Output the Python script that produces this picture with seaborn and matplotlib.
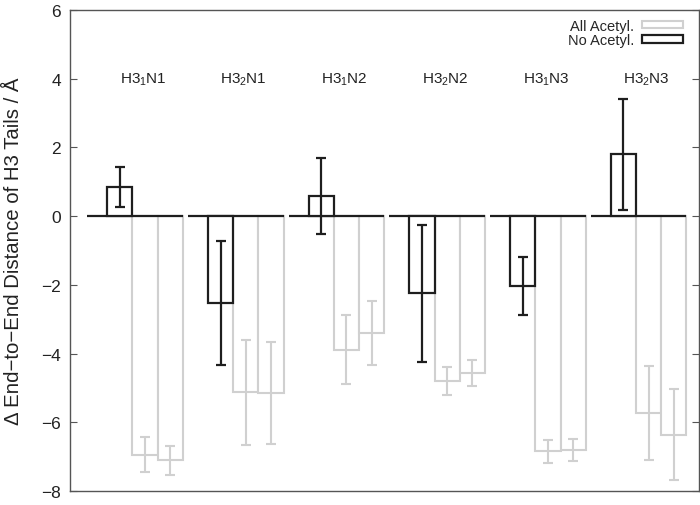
import numpy as np
import pandas as pd
import seaborn as sns
from matplotlib import pyplot as plt
from matplotlib.patches import Patch

# values
groups = ["H3$_1$N1", "H3$_2$N1", "H3$_1$N2", "H3$_2$N2", "H3$_1$N3", "H3$_2$N3"]
no_acetyl = [0.85, -2.53, 0.59, -2.25, -2.03, 1.80]
no_acetyl_err = [0.57, 1.80, 1.10, 2.00, 0.85, 1.61]
all_acetyl_a = [-6.94, -5.13, -3.89, -4.79, -6.85, -5.73]
all_acetyl_a_err = [0.51, 1.52, 1.00, 0.41, 0.33, 1.36]
all_acetyl_b = [-7.11, -5.15, -3.40, -4.57, -6.82, -6.36]
all_acetyl_b_err = [0.43, 1.48, 0.93, 0.37, 0.32, 1.32]

df = pd.DataFrame({
    "group": groups,
    "no": no_acetyl, "no_err": no_acetyl_err,
    "all_a": all_acetyl_a, "all_a_err": all_acetyl_a_err,
    "all_b": all_acetyl_b, "all_b_err": all_acetyl_b_err,
})

sns.set_style("white")
plt.rcParams['font.family'] = ['Liberation Sans', 'DejaVu Sans']
plt.rcParams['mathtext.default'] = 'regular'

BLACK = "#1e1e1e"
GRAY = "#d0d0d0"

fig = plt.figure(figsize=(7, 5.06), dpi=100)
ax = fig.add_axes([0.0993, 0.0277, 0.8993, 0.9506])

pos = np.arange(len(df)) * 4  # gnuplot-like histogram: 3 bars + 1 gap
# all acetyl (gray, empty)
ax.bar(pos + 2, df["all_a"], width=1, color="white", edgecolor=GRAY, linewidth=1.5, zorder=1)
ax.bar(pos + 3, df["all_b"], width=1, color="white", edgecolor=GRAY, linewidth=1.5, zorder=1)
ax.errorbar(pos + 2, df["all_a"], yerr=df["all_a_err"], fmt="none", ecolor=GRAY,
            elinewidth=1.5, capsize=3.5, capthick=1.5, zorder=2)
ax.errorbar(pos + 3, df["all_b"], yerr=df["all_b_err"], fmt="none", ecolor=GRAY,
            elinewidth=1.5, capsize=3.5, capthick=1.5, zorder=2)

# zero baseline per group
ax.hlines(np.zeros(len(df)), pos - 0.3, pos + 3.5, color=BLACK, linewidth=1.6, zorder=3)

# no acetyl (black, empty)
ax.bar(pos + 1, df["no"], width=1, color="white", edgecolor=BLACK, linewidth=1.6, zorder=4)
ax.errorbar(pos + 1, df["no"], yerr=df["no_err"], fmt="none", ecolor=BLACK,
            elinewidth=1.6, capsize=3.5, capthick=1.6, zorder=5)

for p, g in zip(pos, df["group"]):
    ax.text(p + 1.92, 4, g, ha="center", va="center", fontsize=11, color="#222222")

ax.set_xlim(-1, 24)
ax.set_ylim(-8, 6)
ax.set_yticks(np.arange(-8, 7, 2))
ax.set_xticks([])
ax.tick_params(axis="y", direction="in", length=5, width=0.8, color="#555555",
               labelsize=12.5, labelcolor="#222222", right=True, left=True, pad=6)
for s in ax.spines.values():
    s.set_color("#555555")
    s.set_linewidth(1.0)

ax.set_ylabel("Δ End−to−End Distance of H3 Tails / Å", fontsize=14.7, color="#222222")
ax.yaxis.set_label_coords(-0.0745, 0.5)

handles = [Patch(facecolor="white", edgecolor=GRAY, linewidth=1.5),
           Patch(facecolor="white", edgecolor=BLACK, linewidth=1.6)]
ax.legend(handles, ["All Acetyl.", "No Acetyl."], loc="upper right", frameon=False,
          markerfirst=False, handlelength=2.8, handleheight=0.45, labelspacing=0.05,
          handletextpad=0.55, fontsize=10.5, borderaxespad=0, borderpad=0,
          bbox_to_anchor=(0.9746, 0.982))

plt.savefig("out.png")
